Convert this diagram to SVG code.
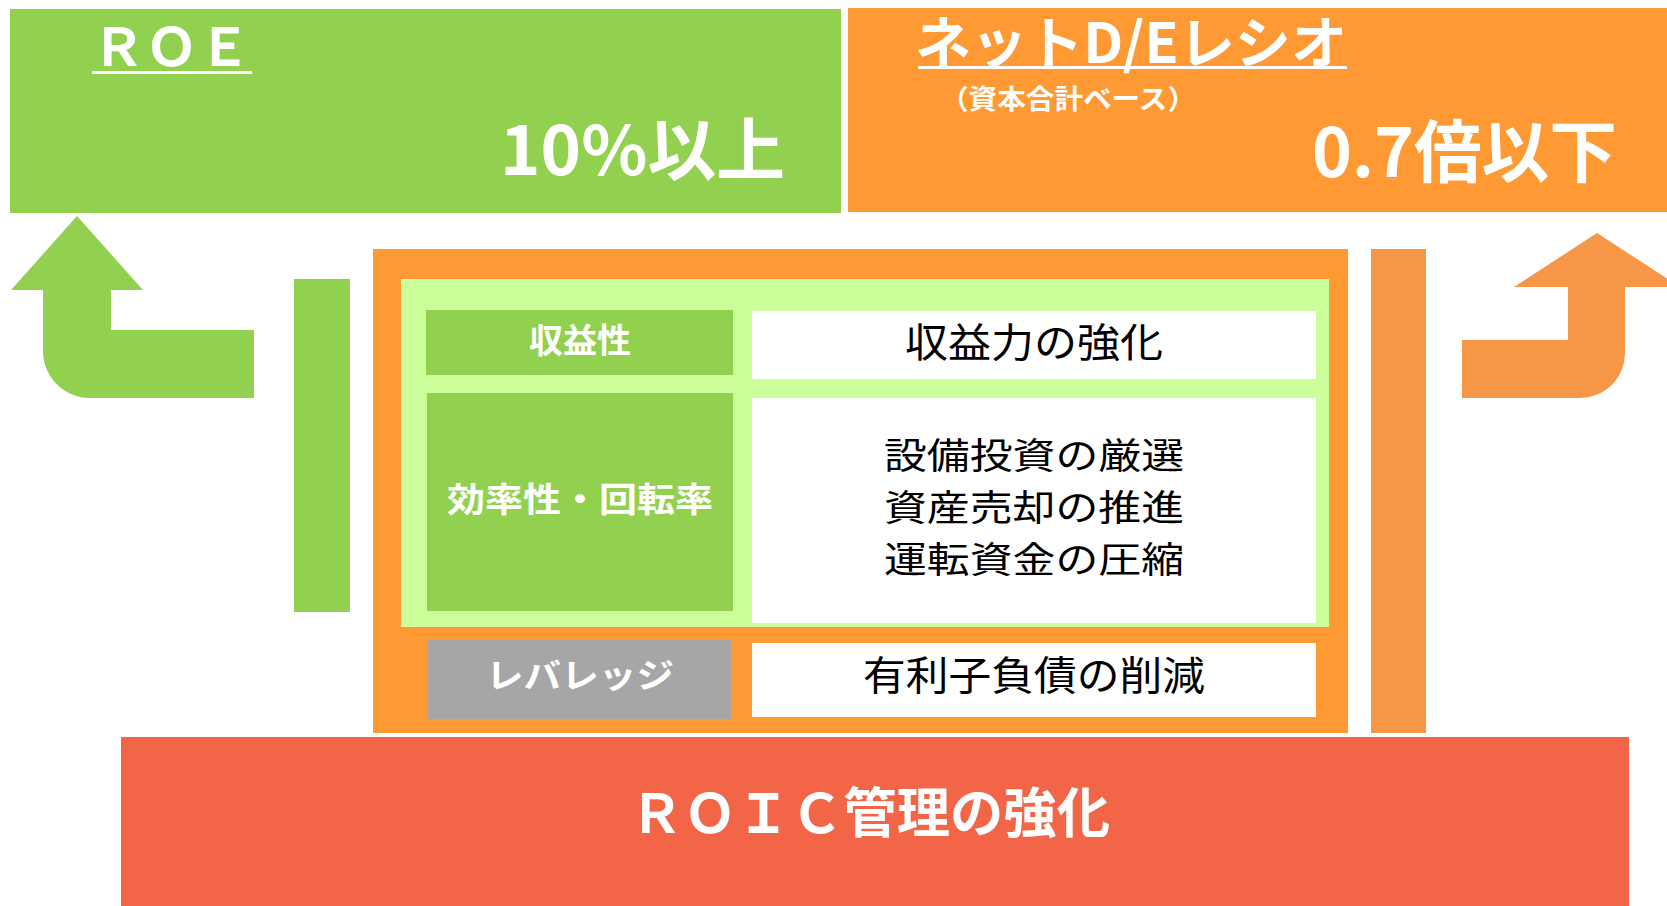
<svg xmlns="http://www.w3.org/2000/svg" width="1667" height="906" viewBox="0 0 1667 906">
<style>
text{font-family:"Noto Sans CJK JP","Noto Sans",sans-serif}
.w{fill:#fff;font-weight:bold}
.b{fill:#000;font-size:40px}
.b3{fill:#000;font-size:36px}
.lbl{fill:#fff;font-weight:bold;font-size:34px}
.green{fill:#92D050}
.orange{fill:#FF9933}
.arrow{fill:#F79646}
</style>
<rect width="1667" height="906" fill="#fff"/>
<g id="roe">
<rect class="green" x="10" y="9" width="831" height="204"/>
<text class="w" x="92" y="66" font-size="53">ＲＯＥ</text>
<rect x="92" y="71" width="160" height="3" fill="#fff"/>
<text class="w" x="500" y="175" font-size="68" textLength="285" lengthAdjust="spacingAndGlyphs">10%以上</text>
</g>
<g id="de-ratio">
<rect class="orange" x="848" y="8" width="819" height="204"/>
<text class="w" x="915" y="63" font-size="56" textLength="432" lengthAdjust="spacingAndGlyphs">ネットD/Eレシオ</text>
<rect x="918" y="66" width="429" height="3" fill="#fff"/>
<text class="w" x="940" y="109" font-size="27" textLength="256" lengthAdjust="spacingAndGlyphs">（資本合計ベース）</text>
<text class="w" x="1312" y="177" font-size="68" textLength="305" lengthAdjust="spacingAndGlyphs">0.7倍以下</text>
</g>
<g id="connectors">
<path class="green" d="M77,216 L143,290 L111,290 L111,330 L254,330 L254,398 L90,398 A47,47 0 0 1 43,351 L43,290 L11,290 Z"/>
<rect class="green" x="294" y="279" width="56" height="333"/>
<rect class="arrow" x="1371" y="249" width="55" height="484"/>
<path class="arrow" d="M1597,233 L1680,287 L1625,287 L1625,353 A45,45 0 0 1 1580,398 L1462,398 L1462,340 L1568,340 L1568,287 L1514,287 Z"/>
</g>
<g id="roic-panel">
<rect class="orange" x="373" y="249" width="975" height="484"/>
<rect x="401" y="279" width="928" height="348" fill="#CCFF99"/>
</g>
<g id="profitability">
<rect class="green" x="426" y="310" width="307" height="65"/>
<text class="lbl" x="580" y="353" text-anchor="middle">収益性</text>
<rect x="752" y="311" width="564" height="68" fill="#fff"/>
<text class="b" x="1034" y="357" text-anchor="middle" textLength="258" lengthAdjust="spacingAndGlyphs">収益力の強化</text>
</g>
<g id="efficiency">
<rect class="green" x="427" y="393" width="306" height="218"/>
<text class="lbl" x="580" y="512" text-anchor="middle" textLength="266" lengthAdjust="spacingAndGlyphs">効率性・回転率</text>
<rect x="752" y="398" width="564" height="225" fill="#fff"/>
<text class="b3" x="1034" y="469" text-anchor="middle" textLength="300" lengthAdjust="spacingAndGlyphs">設備投資の厳選</text>
<text class="b3" x="1034" y="521" text-anchor="middle" textLength="300" lengthAdjust="spacingAndGlyphs">資産売却の推進</text>
<text class="b3" x="1034" y="573" text-anchor="middle" textLength="300" lengthAdjust="spacingAndGlyphs">運転資金の圧縮</text>
</g>
<g id="leverage">
<rect x="428" y="640" width="303" height="79" fill="#A6A6A6"/>
<text class="lbl" x="580" y="688" text-anchor="middle" textLength="188" lengthAdjust="spacingAndGlyphs">レバレッジ</text>
<rect x="752" y="643" width="564" height="74" fill="#fff"/>
<text class="b" x="1034" y="690" text-anchor="middle" textLength="342" lengthAdjust="spacingAndGlyphs">有利子負債の削減</text>
</g>
<g id="roic">
<rect x="121" y="737" width="1508" height="169" fill="#F26546"/>
<text class="w" x="870" y="833" font-size="54" text-anchor="middle" textLength="480" lengthAdjust="spacingAndGlyphs">ＲＯＩＣ管理の強化</text>
</g>
</svg>
